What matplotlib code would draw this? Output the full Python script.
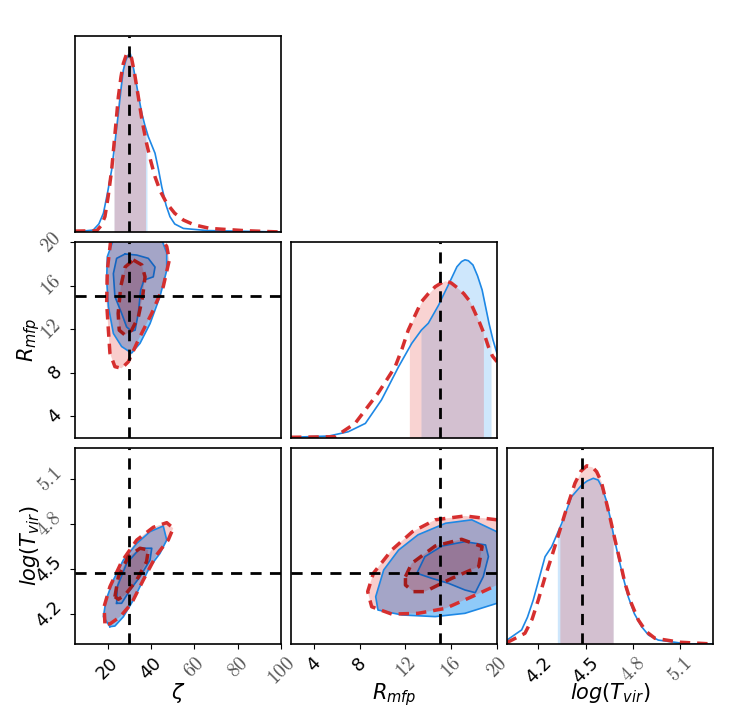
import numpy as np
import matplotlib
matplotlib.use("Agg")
import matplotlib.pyplot as plt

# parametros y valores verdaderos
nombres = [r"$\zeta$", r"$R_{mfp}$", r"$log(T_{vir})$"]
limites = [(5, 100), (2, 20), (4.0, 5.31)]
verdad = [30, 15, 4.477]
ticks = [[20, 40, 60, 80, 100], [4, 8, 12, 16, 20], [4.2, 4.5, 4.8, 5.1]]
etiquetas = [["20", "40", "$60$", "$80$", "$100$"],
             ["4", "8", "$12$", "$16$", "$20$"],
             ["4.2", "4.5", "$4.8$", "$5.1$"]]

# distribuciones 1D (azul = solida, rojo = discontinua)
zeta_x_azul = [5, 13.4, 16, 18.1, 20, 21.9, 23.5, 25.0, 26.2, 27.3, 28.5, 29.6, 30.5, 31.5, 32.7, 34.2, 35.8,
               37.2, 38.8, 40.3, 41.9, 43.5, 45.0, 47, 48.8, 51, 55, 66, 100]
zeta_y_azul = [0, 0.011, 0.045, 0.105, 0.22, 0.348, 0.51, 0.666, 0.8, 0.909, 0.965, 0.993, 1.0, 0.95, 0.872, 0.77,
               0.666, 0.6, 0.535, 0.49, 0.442, 0.35, 0.254, 0.15, 0.086, 0.045, 0.02, 0.008, 0]
zeta_x_rojo = [5, 15, 17, 18.8, 20.3, 21.9, 23.5, 25, 26.2, 27.3, 28.8, 29.9, 31.1, 32.6, 34.2, 36, 38.0, 39.9,
               41.9, 44.3, 47.3, 51, 55, 60, 67.3, 84, 100]
zeta_y_rojo = [0.005, 0.007, 0.035, 0.086, 0.2, 0.348, 0.56, 0.759, 0.87, 0.946, 1.0, 0.995, 0.975, 0.88, 0.759,
               0.62, 0.498, 0.4, 0.31, 0.23, 0.161, 0.105, 0.067, 0.04, 0.02, 0.007, 0]

rmfp_x_azul = [2.0, 5.3, 7.0, 8.5, 9.9, 10.6, 11.4, 12.55, 13.4, 14.0, 14.9, 15.3, 15.75, 16.5, 16.9, 17.2, 17.5,
               17.9, 18.3, 18.7, 19.3, 19.65, 20.0]
rmfp_y_azul = [0.004, 0.011, 0.035, 0.082, 0.213, 0.3, 0.4, 0.531, 0.606, 0.644, 0.746, 0.8, 0.859, 0.961, 0.99,
               1.0, 0.995, 0.971, 0.91, 0.831, 0.644, 0.55, 0.475]
rmfp_x_rojo = [2.0, 5.85, 7.6, 9.6, 10.3, 11.1, 11.7, 12.25, 12.85, 13.4, 14.0, 14.6, 15.45, 16.0, 16.6, 17.1,
               17.65, 18.5, 18.9, 19.25, 19.6, 20.0]
rmfp_y_rojo = [0.004, 0.007, 0.082, 0.251, 0.32, 0.4, 0.5, 0.606, 0.69, 0.765, 0.81, 0.849, 0.883, 0.87, 0.84,
               0.81, 0.765, 0.644, 0.58, 0.512, 0.46, 0.428]

tvir_x_azul = [4.0, 4.093, 4.13, 4.167, 4.205, 4.242, 4.284, 4.348, 4.411, 4.475, 4.51, 4.549, 4.58, 4.602, 4.63,
               4.655, 4.68, 4.708, 4.74, 4.771, 4.81, 4.856, 4.9, 4.962, 5.15, 5.31]
tvir_y_azul = [0.022, 0.079, 0.15, 0.247, 0.37, 0.49, 0.546, 0.677, 0.827, 0.892, 0.915, 0.93, 0.92, 0.883, 0.81,
               0.714, 0.6, 0.49, 0.37, 0.265, 0.17, 0.097, 0.05, 0.022, 0.0, 0.0]
tvir_x_rojo = [4.0, 4.114, 4.16, 4.199, 4.24, 4.284, 4.33, 4.369, 4.432, 4.47, 4.507, 4.54, 4.57, 4.6, 4.623,
               4.655, 4.687, 4.72, 4.75, 4.79, 4.835, 4.885, 4.941, 5.1, 5.31]
tvir_y_rojo = [0.008, 0.06, 0.14, 0.247, 0.37, 0.49, 0.62, 0.733, 0.902, 0.97, 1.0, 0.995, 0.967, 0.91, 0.827,
               0.71, 0.584, 0.46, 0.341, 0.23, 0.135, 0.07, 0.032, 0.01, 0.0]

# intervalos 68%
intervalo_azul = [(23.0, 38.2), (13.36, 19.48), (4.32, 4.675)]
intervalo_rojo = [(23.0, 37.5), (12.34, 18.81), (4.336, 4.675)]

# contornos 2D: zeta vs R_mfp
zr_azul_ext_x = [22.7, 19.9, 19.6, 20.4, 22.7, 26.5, 31.1, 35.0, 39.6, 44.2, 47.3, 47.3, 45.0, 40, 30]
zr_azul_ext_y = [20.2, 18.65, 16.5, 14.06, 11.6, 10.4, 9.8, 10.7, 12.5, 15.0, 17.4, 19.0, 20.2, 21, 21]
zr_azul_int_x = [28.1, 33.5, 38.8, 41.9, 41.1, 36.8, 35.3, 34.2, 32.7, 31.1, 28.8, 26.5, 23.4, 22.7, 24.2]
zr_azul_int_y = [18.9, 18.8, 18.5, 17.7, 16.8, 16.5, 15.6, 13.45, 11.9, 11.8, 12.2, 13.45, 15.0, 17.1, 18.5]
zr_rojo_ext_x = [21.5, 19.9, 19.6, 20.4, 21.1, 23.4, 26.5, 29.6, 34.2, 40.4, 45.7, 48.5, 47.3, 45.0, 40, 30]
zr_rojo_ext_y = [20.2, 17.4, 14.4, 11.9, 9.8, 8.55, 8.4, 9.0, 11.0, 13.45, 15.9, 18.35, 19.6, 20.2, 21, 21]
zr_rojo_int_x = [31.9, 35.8, 37.3, 36.2, 34.2, 31.1, 28.1, 25.4, 24.9, 26.1, 28.1]
zr_rojo_int_y = [18.35, 17.9, 16.8, 15.0, 13.1, 11.9, 11.45, 11.9, 13.45, 15.9, 17.7]

# contornos 2D: zeta vs log(T_vir)
zt_azul_ext_x = [21.1, 18.1, 19.3, 22.7, 27.3, 33.5, 39.6, 45.7, 47.3, 44.2, 39.6, 36.5, 31.9, 27.3, 23.4]
zt_azul_ext_y = [4.116, 4.182, 4.294, 4.428, 4.561, 4.673, 4.751, 4.789, 4.695, 4.606, 4.517, 4.428, 4.294, 4.182, 4.12]
zt_azul_int_x = [24.2, 24.5, 28.8, 35.0, 40.4, 39.6, 35.0, 30.4, 26.5]
zt_azul_int_y = [4.272, 4.383, 4.539, 4.64, 4.64, 4.561, 4.45, 4.361, 4.272]
zt_rojo_ext_x = [18.8, 18.4, 21.1, 26.5, 33.5, 41.1, 47.3, 50.3, 48.0, 42.6, 36.5, 31.1, 25.8, 21.1]
zt_rojo_ext_y = [4.138, 4.249, 4.383, 4.55, 4.695, 4.78, 4.811, 4.774, 4.695, 4.595, 4.428, 4.272, 4.182, 4.134]
zt_rojo_int_x = [23.4, 25.0, 29.6, 35.0, 38.8, 38.0, 33.5, 28.1, 25.0]
zt_rojo_int_y = [4.316, 4.45, 4.584, 4.64, 4.628, 4.55, 4.428, 4.328, 4.299]

# contornos 2D: R_mfp vs log(T_vir)
rt_azul_ext_x = [20.0, 17.8, 15.5, 13.1, 11.4, 10.1, 9.4, 9.6, 11.7, 14.6, 17.2, 20.0, 21, 21]
rt_azul_ext_y = [4.75, 4.83, 4.807, 4.73, 4.628, 4.495, 4.316, 4.227, 4.194, 4.183, 4.205, 4.272, 4.3, 4.7]
rt_azul_int_x = [13.0, 13.7, 15.2, 17.2, 19.0, 19.25, 18.8, 18.1, 17.2, 15.75, 14.3]
rt_azul_int_y = [4.473, 4.584, 4.655, 4.684, 4.662, 4.584, 4.45, 4.343, 4.361, 4.406, 4.439]
rt_rojo_ext_x = [20.0, 17.2, 14.6, 12.6, 10.8, 9.2, 8.7, 9.05, 10.8, 13.1, 15.5, 17.8, 20.0, 21, 21]
rt_rojo_ext_y = [4.83, 4.856, 4.83, 4.75, 4.628, 4.473, 4.35, 4.249, 4.2, 4.205, 4.238, 4.316, 4.394, 4.42, 4.8]
rt_rojo_int_x = [12.0, 12.55, 14.6, 16.9, 18.7, 18.4, 16.05, 13.7, 12.7, 12.0]
rt_rojo_int_y = [4.45, 4.539, 4.655, 4.7, 4.651, 4.517, 4.439, 4.35, 4.35, 4.394]

curvas_azul = [(zeta_x_azul, zeta_y_azul), (rmfp_x_azul, rmfp_y_azul), (tvir_x_azul, tvir_y_azul)]
curvas_rojo = [(zeta_x_rojo, zeta_y_rojo), (rmfp_x_rojo, rmfp_y_rojo), (tvir_x_rojo, tvir_y_rojo)]
contornos = {
    (1, 0): [(zr_azul_ext_x, zr_azul_ext_y), (zr_azul_int_x, zr_azul_int_y),
             (zr_rojo_ext_x, zr_rojo_ext_y), (zr_rojo_int_x, zr_rojo_int_y)],
    (2, 0): [(zt_azul_ext_x, zt_azul_ext_y), (zt_azul_int_x, zt_azul_int_y),
             (zt_rojo_ext_x, zt_rojo_ext_y), (zt_rojo_int_x, zt_rojo_int_y)],
    (2, 1): [(rt_azul_ext_x, rt_azul_ext_y), (rt_azul_int_x, rt_azul_int_y),
             (rt_rojo_ext_x, rt_rojo_ext_y), (rt_rojo_int_x, rt_rojo_int_y)],
}

azul = '#1e88e5'
azul_osc = '#1565c0'
rojo = '#d62f2f'
rojo_osc = '#a31b1b'
guion_rojo = (0, (3, 2))
guion_negro = (0, (4, 3))

fig = plt.figure(figsize=(7.5, 7.16), dpi=100)
W, H = 750.0, 716.0
col_x = [75, 291, 507]
fila_y = [36, 242, 448]
ancho, alto = 206, 196


def cerrar(x, y):
    return list(x) + [x[0]], list(y) + [y[0]]


def estilo_etiquetas(labs):
    # las etiquetas con $ salen en fuente serif (cm), las otras en sans
    for lab in labs:
        lab.set_rotation(45)
        if lab.get_text().startswith('$'):
            lab.set_math_fontfamily('cm')
            lab.set_fontsize(14)
            lab.set_color('#555555')
        else:
            lab.set_fontsize(13)


for i in range(3):
    for j in range(i + 1):
        ax = fig.add_axes([col_x[j] / W, 1 - (fila_y[i] + alto) / H, ancho / W, alto / H])
        for s in ax.spines.values():
            s.set_linewidth(1.2)
        ax.set_xlim(limites[j])
        if i == j:
            ax.set_ylim(0, 1.1)
            ax.set_yticks([])
            for (cx, cy), inter, base in [(curvas_azul[i], intervalo_azul[i], '#2196f3'),
                                          (curvas_rojo[i], intervalo_rojo[i], '#e53935')]:
                xx = np.linspace(inter[0], inter[1], 200)
                ax.fill_between(xx, 0, np.interp(xx, cx, cy), color=base, alpha=0.22, lw=0)
            ax.plot(curvas_azul[i][0], curvas_azul[i][1], color=azul, lw=1.2)
            ax.plot(curvas_rojo[i][0], curvas_rojo[i][1], color=rojo, lw=2.5, ls=guion_rojo)
            ax.axvline(verdad[i], color='k', lw=2, ls=guion_negro)
        else:
            ax.set_ylim(limites[i])
            (aex, aey), (aix, aiy), (rex, rey), (rix, riy) = contornos[(i, j)]
            ax.fill(aex, aey, color='#2196f3', alpha=0.5, lw=0)
            ax.fill(aix, aiy, color='#1565c0', alpha=0.25, lw=0)
            ax.fill(rex, rey, color='#e53935', alpha=0.25, lw=0)
            ax.fill(rix, riy, color='#b71c1c', alpha=0.22, lw=0)
            ax.plot(*cerrar(aex, aey), color=azul, lw=1.2)
            ax.plot(*cerrar(aix, aiy), color=azul_osc, lw=1.2)
            ax.plot(*cerrar(rex, rey), color=rojo, lw=2.5, ls=guion_rojo)
            ax.plot(*cerrar(rix, riy), color=rojo_osc, lw=2.5, ls=guion_rojo)
            ax.axvline(verdad[j], color='k', lw=2, ls=guion_negro)
            ax.axhline(verdad[i], color='k', lw=2, ls=guion_negro)

        if i == 2:
            ax.set_xticks(ticks[j], etiquetas[j])
            estilo_etiquetas(ax.get_xticklabels())
            ax.set_xlabel(nombres[j], fontsize=15)
            ax.xaxis.set_label_coords(0.5, -0.19)
        else:
            ax.set_xticks([])
        if j == 0 and i > 0:
            ax.set_yticks(ticks[i], etiquetas[i])
            estilo_etiquetas(ax.get_yticklabels())
            for lab in ax.get_yticklabels():
                lab.set_va('center')
            ax.set_ylabel(nombres[i], fontsize=15)
            ax.yaxis.set_label_coords(-0.16, 0.5)
        elif i != j:
            ax.set_yticks([])

fig.savefig('out.png', dpi=100)
